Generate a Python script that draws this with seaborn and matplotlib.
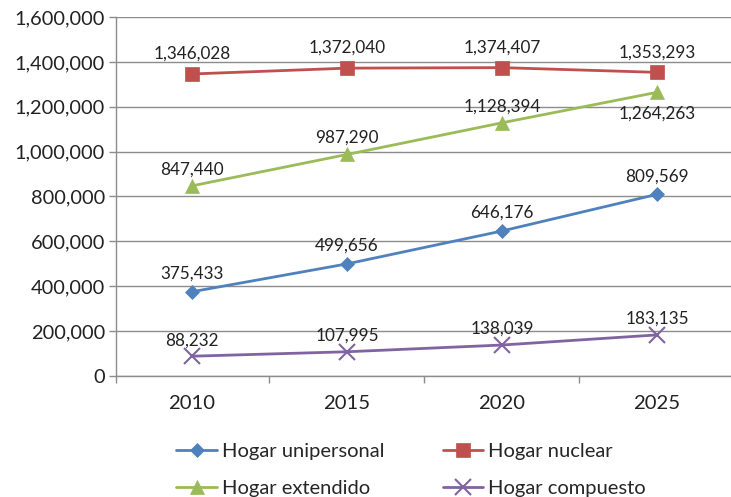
import matplotlib
matplotlib.use('Agg')
import matplotlib.pyplot as plt
import seaborn as sns
import pandas as pd

years = ['2010', '2015', '2020', '2025']
unipersonal = [375433, 499656, 646176, 809569]
nuclear = [1346028, 1372040, 1374407, 1353293]
extendido = [847440, 987290, 1128394, 1264263]
compuesto = [88232, 107995, 138039, 183135]

series_names = ['Hogar unipersonal', 'Hogar nuclear', 'Hogar extendido', 'Hogar compuesto']
series_values = [unipersonal, nuclear, extendido, compuesto]
colors = ['#4F81BD', '#C0504D', '#9BBB59', '#8064A2']
markers = ['D', 's', '^', 'x']
msizes = [7.5, 10, 10, 11]
label_offsets = [13, 14.5, 12, 11.5]  # points above the marker (text centre)

sns.set_style('white')
plt.rcParams['font.family'] = ['Lato', 'DejaVu Sans']

fig = plt.figure(figsize=(7.31, 4.97), dpi=100)
ax = fig.add_axes([116 / 731, 121 / 497, 620 / 731, 359 / 497])

rows = []
for name, vals in zip(series_names, series_values):
    for i, v in enumerate(vals):
        rows.append({'pos': i, 'valor': v, 'serie': name})
df = pd.DataFrame(rows)

for name, col, mk, ms in zip(series_names, colors, markers, msizes):
    sub = df[df['serie'] == name]
    sns.lineplot(data=sub, x='pos', y='valor', ax=ax, color=col, marker=mk,
                 markersize=ms, linewidth=2, label=name,
                 markeredgecolor=col, markeredgewidth=1.5 if mk == 'x' else 0.5)

for name, vals, off in zip(series_names, series_values, label_offsets):
    for i, v in enumerate(vals):
        dy = off
        if name == 'Hogar extendido' and i == 3:
            dy = -15.5
        ax.annotate(f'{v:,}', (i, v), xytext=(0, dy), textcoords='offset points',
                    ha='center', va='center', fontsize=12.3, color='#222222')

ax.set_xlim(-0.49, 3.51)
ax.set_ylim(0, 1600000)
ax.set_yticks(range(0, 1600001, 200000))
ax.set_yticklabels([f'{t:,}' for t in range(0, 1600001, 200000)])
ax.set_xticks(range(len(years)))
ax.set_xticklabels(years)
ax.set_xticks([-0.49, 0.5, 1.5, 2.5], minor=True)
ax.set_xlabel('')
ax.set_ylabel('')

ax.grid(axis='y', color='#8c8c8c', linewidth=1)
ax.set_axisbelow(True)
for s in ['top', 'right']:
    ax.spines[s].set_visible(False)
for s in ['left', 'bottom']:
    ax.spines[s].set_color('#8c8c8c')
    ax.spines[s].set_linewidth(1)

ax.tick_params(axis='y', length=5, width=1, color='#8c8c8c', pad=3, labelsize=14.4, labelcolor='#222222', left=True)
ax.tick_params(axis='x', which='major', length=0, pad=14, labelsize=14.6, labelcolor='#222222')
ax.tick_params(axis='x', which='minor', length=5, width=1, color='#8c8c8c', bottom=True)

ax.get_legend().remove()
handles, labels = ax.get_legend_handles_labels()
order = [0, 2, 1, 3]  # legend fills column-wise
fig.legend([handles[i] for i in order], [labels[i] for i in order], loc='center',
           bbox_to_anchor=(411 / 731, 1 - 470 / 497), ncol=2,
           frameon=False, fontsize=14.5, handlelength=2.0, handletextpad=0.25,
           columnspacing=2.9, labelspacing=0.95)

fig.savefig('out.png', dpi=100)
